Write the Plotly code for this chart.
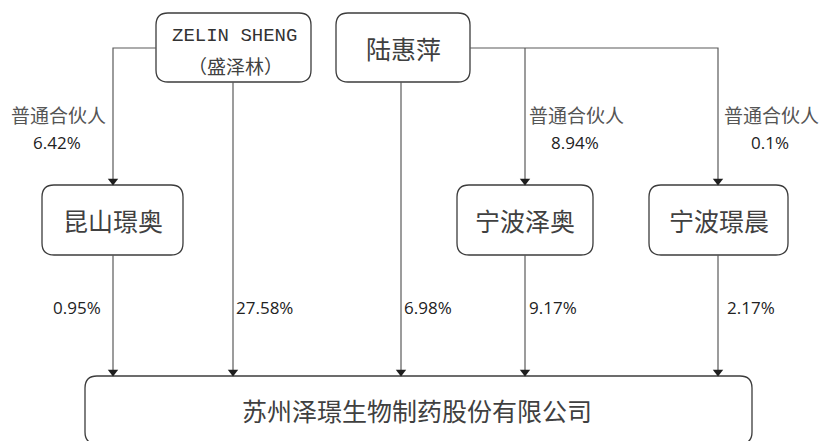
import plotly.graph_objects as go

# ---------------- data ----------------
owners = ["ZELIN SHENG", "陆惠萍"]
owner_subtitles = ["（盛泽林）", ""]
partnerships = ["昆山璟奥", "宁波泽奥", "宁波璟晨"]
company = "苏州泽璟生物制药股份有限公司"
gp_role = "普通合伙人"
gp_stakes = [6.42, 8.94, 0.1]            # owner -> partnership (昆山璟奥, 宁波泽奥, 宁波璟晨)
direct_holders = ["昆山璟奥", "ZELIN SHENG", "陆惠萍", "宁波泽奥", "宁波璟晨"]
direct_stakes = [0.95, 27.58, 6.98, 9.17, 2.17]   # holder -> company

# ---------------- geometry (pixel space) ----------------
W, H = 821, 441
boxes = {
    "ZELIN SHENG": (156, 311, 13, 82),
    "陆惠萍": (336, 470, 13, 82),
    "昆山璟奥": (42, 183, 185, 255),
    "宁波泽奥": (457, 593, 185, 255),
    "宁波璟晨": (649, 788, 185, 255),
    company: (85, 752, 376, 444),
}
col_x = {"昆山璟奥": 113, "ZELIN SHENG": 233, "陆惠萍": 401, "宁波泽奥": 525, "宁波璟晨": 718}
bus_y = 48
gp_label_x = [58, 576, 771]
gp_label_split_y = 129
direct_label_x = [77, 264, 428, 553, 751]
direct_label_y = 307

BOX_LINE = "#3c3c3c"
CONN = "#5a5a5a"
TXT = "#404040"
CJK = "Noto Sans CJK SC"
LAT = "Open Sans"


def rounded_path(x0, x1, y0, y1, r=12):
    return (f"M{x0+r},{y0} L{x1-r},{y0} Q{x1},{y0} {x1},{y0+r} "
            f"L{x1},{y1-r} Q{x1},{y1} {x1-r},{y1} L{x0+r},{y1} "
            f"Q{x0},{y1} {x0},{y1-r} L{x0},{y0+r} Q{x0},{y0} {x0+r},{y0} Z")


fig = go.Figure()
shapes = []
for name, (x0, x1, y0, y1) in boxes.items():
    shapes.append(dict(type="path", path=rounded_path(x0, x1, y0, y1), xref="x", yref="y",
                       line=dict(color=BOX_LINE, width=1.3), fillcolor="white", layer="below"))

# connectors
lx, ly = [], []
tips_x, tips_y = [], []

def seg(pts, arrow=True):
    for (x, y) in pts:
        lx.append(x); ly.append(y)
    lx.append(None); ly.append(None)
    if arrow:
        tips_x.append(pts[-1][0]); tips_y.append(pts[-1][1])

zb = boxes["ZELIN SHENG"]; lb = boxes["陆惠萍"]
top_comp = boxes[company][2]
# ZELIN SHENG -> 昆山璟奥 (GP)
seg([(zb[0], bus_y), (col_x["昆山璟奥"], bus_y), (col_x["昆山璟奥"], boxes["昆山璟奥"][2])])
# 陆惠萍 -> 宁波泽奥 / 宁波璟晨 (GP)
seg([(lb[1], bus_y), (col_x["宁波璟晨"], bus_y), (col_x["宁波璟晨"], boxes["宁波璟晨"][2])])
seg([(col_x["宁波泽奥"], bus_y), (col_x["宁波泽奥"], boxes["宁波泽奥"][2])])
# direct holdings -> company
for h in direct_holders:
    seg([(col_x[h], boxes[h][3]), (col_x[h], top_comp)])

fig.add_trace(go.Scatter(x=lx, y=ly, mode="lines", line=dict(color=CONN, width=1.2),
                         hoverinfo="skip", showlegend=False))
fig.add_trace(go.Scatter(x=tips_x, y=[t - 4 for t in tips_y], mode="markers",
                         marker=dict(symbol="triangle-down", size=9, color="#1e1e1e", line=dict(width=0)),
                         hoverinfo="skip", showlegend=False))

ann = []
def box_center(n):
    x0, x1, y0, y1 = boxes[n]
    return (x0 + x1) / 2, (y0 + y1) / 2

zx, _ = box_center("ZELIN SHENG")
ann.append(dict(x=zx + 1, y=36, text=owners[0], font=dict(family="Liberation Mono", size=19, color="#333")))
ann.append(dict(x=zx + 2, y=65, text=owner_subtitles[0], font=dict(family=CJK, size=19, color=TXT)))
cx, cy = box_center("陆惠萍")
ann.append(dict(x=cx, y=cy, text=owners[1], font=dict(family=CJK, size=25, color=TXT)))
for p in partnerships:
    cx, cy = box_center(p)
    ann.append(dict(x=cx, y=cy, text=p, font=dict(family=CJK, size=25, color=TXT)))
ann.append(dict(x=417, y=410, text=company, font=dict(family=CJK, size=25, color=TXT)))

for a in ann:
    a.update(yanchor="middle")

# GP labels
for x, v in zip(gp_label_x, gp_stakes):
    ann.append(dict(x=x, y=gp_label_split_y, text=gp_role, yanchor="bottom", borderpad=0,
                    font=dict(family=CJK, size=19, color="#555")))
    ann.append(dict(x=x - 1, y=gp_label_split_y + 1, text=f"{v}%", yanchor="top", borderpad=0,
                    font=dict(family=LAT, size=17, color="#222")))
# direct stake labels
for x, v in zip(direct_label_x, direct_stakes):
    ann.append(dict(x=x, y=direct_label_y, text=f"{v}%", yanchor="middle",
                    font=dict(family=LAT, size=17, color="#222")))

for a in ann:
    a.update(xref="x", yref="y", showarrow=False, xanchor="center")

fig.update_layout(
    width=W, height=H, margin=dict(l=0, r=0, t=0, b=0),
    paper_bgcolor="white", plot_bgcolor="white",
    xaxis=dict(range=[0, W], visible=False, fixedrange=True),
    yaxis=dict(range=[H, 0], visible=False, fixedrange=True),
    shapes=shapes, annotations=ann, showlegend=False,
)
fig.write_html("out.html", config={"displayModeBar": False},
               post_script="document.body.style.margin='0';document.body.style.overflow='hidden';")
